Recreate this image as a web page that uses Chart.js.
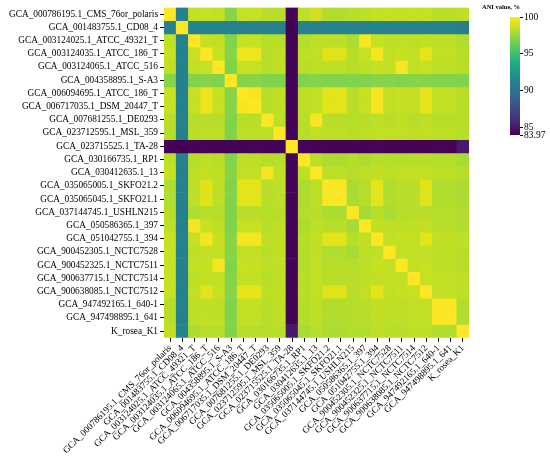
<!DOCTYPE html>
<html><head><meta charset="utf-8">
<script src="https://cdn.jsdelivr.net/npm/chart.js@4"></script>
<style>
html,body{margin:0;padding:0;background:#fff;width:550px;height:463px;overflow:hidden;}
#main{position:absolute;left:0;top:0;width:478px;height:463px;}
#cbar{position:absolute;left:470px;top:0;width:80px;height:150px;}
#cbtitle{position:absolute;left:470px;top:3px;width:62px;text-align:center;font:bold 6.5px "Liberation Serif";line-height:7px;color:#000;white-space:nowrap;}
</style></head><body>
<div id="main"><canvas id="c1"></canvas></div>
<div id="cbar"><canvas id="c2"></canvas></div>
<div id="cbtitle">ANI value, %</div>
<script>
const rowLabels = [
"GCA_000786195.1_CMS_76or_polaris","GCA_001483755.1_CD08_4","GCA_003124025.1_ATCC_49321_T",
"GCA_003124035.1_ATCC_186_T","GCA_003124065.1_ATCC_516","GCA_004358895.1_S-A3",
"GCA_006094695.1_ATCC_186_T","GCA_006717035.1_DSM_20447_T","GCA_007681255.1_DE0293",
"GCA_023712595.1_MSL_359","GCA_023715525.1_TA-28","GCA_030166735.1_RP1","GCA_030412635.1_13",
"GCA_035065005.1_SKFO21.2","GCA_035065045.1_SKFO21.1","GCA_037144745.1_USHLN215",
"GCA_050586365.1_397","GCA_051042755.1_394","GCA_900452305.1_NCTC7528","GCA_900452325.1_NCTC7511",
"GCA_900637715.1_NCTC7514","GCA_900638085.1_NCTC7512","GCA_947492165.1_640-1","GCA_947498895.1_641",
"K_rosea_K1"];
const colLabels = rowLabels.slice();
const aniValues = [
[100,91.0,98.5,98.6,98.5,97.1,98.6,98.6,98.3,98.3,84.1,98.4,98.8,98.1,98.1,98.3,98.4,98.6,98.6,98.6,98.6,98.6,98.3,98.3,98.5],
[91.0,100,91.1,91.1,91.1,91.0,91.1,91.1,91.1,91.1,84.0,91.1,91.1,91.1,91.1,91.1,91.1,91.1,91.1,91.1,91.1,91.1,91.1,91.1,90.7],
[98.5,91.0,100,98.6,98.5,97.0,98.6,98.6,98.2,98.3,84.1,98.2,98.4,98.4,98.4,98.0,99.8,98.6,98.4,98.5,98.4,98.5,98.4,98.4,98.1],
[98.6,91.0,98.6,100,98.6,97.1,99.6,99.6,98.3,98.4,84.1,98.4,98.5,99.2,99.2,98.3,98.6,99.8,98.5,98.6,98.5,99.3,98.5,98.5,98.3],
[98.5,91.0,98.5,98.6,100,97.0,98.6,98.6,98.3,98.4,84.1,98.3,98.4,98.4,98.4,98.2,98.4,98.6,98.5,99.8,98.5,98.6,98.4,98.4,98.2],
[97.1,91.0,97.0,97.1,97.0,100,97.1,97.1,97.0,97.0,84.1,97.0,97.1,97.0,97.0,97.0,97.0,97.1,97.1,97.0,97.1,97.1,97.0,97.0,97.0],
[98.6,91.0,98.6,99.6,98.6,97.1,100,99.8,98.3,98.4,84.1,98.4,98.5,99.3,99.3,98.3,98.6,99.8,98.5,98.6,98.5,99.4,98.5,98.5,98.3],
[98.6,91.0,98.6,99.6,98.6,97.1,99.8,100,98.3,98.4,84.1,98.4,98.5,99.3,99.3,98.3,98.6,99.8,98.5,98.6,98.5,99.4,98.5,98.5,98.3],
[98.3,91.0,98.2,98.3,98.3,97.0,98.3,98.3,100,98.4,84.1,98.3,99.8,98.3,98.3,98.2,98.3,98.4,98.3,98.4,98.3,98.4,98.3,98.3,98.2],
[98.3,91.0,98.3,98.4,98.4,97.0,98.4,98.4,98.4,100,84.1,98.3,98.5,98.4,98.4,98.3,98.4,98.5,98.5,98.5,98.4,98.5,98.4,98.4,98.3],
[84.1,84.0,84.1,84.1,84.1,84.1,84.1,84.1,84.1,84.1,100,84.1,84.1,84.1,84.1,84.1,84.1,84.1,84.1,84.1,84.1,84.1,84.1,84.1,85.1],
[98.4,91.0,98.2,98.4,98.3,97.0,98.4,98.4,98.2,98.3,84.1,100,98.4,98.0,98.0,98.2,98.0,98.3,98.2,98.2,98.3,98.3,98.2,98.2,97.9],
[98.7,91.0,98.4,98.5,98.4,97.1,98.5,98.5,99.7,98.5,84.1,98.4,100,98.4,98.4,98.3,98.4,98.5,98.4,98.5,98.5,98.5,98.4,98.4,98.3],
[98.1,91.0,98.4,99.2,98.4,97.0,99.3,99.3,98.3,98.4,84.1,98.0,98.4,100,99.9,97.9,98.3,99.3,98.1,98.3,98.3,99.2,98.1,98.1,98.0],
[98.1,91.0,98.4,99.2,98.4,97.0,99.3,99.3,98.3,98.4,84.1,98.0,98.4,99.9,100,97.9,98.3,99.3,98.1,98.3,98.3,99.2,98.1,98.1,98.0],
[98.3,91.0,98.1,98.3,98.2,97.0,98.3,98.3,98.2,98.3,84.1,98.2,98.3,98.0,98.0,100,97.8,98.3,97.9,98.2,98.3,98.3,98.2,98.2,98.1],
[98.4,91.0,99.8,98.6,98.4,97.0,98.6,98.6,98.3,98.4,84.1,98.0,98.4,98.3,98.3,97.8,100,98.5,98.4,98.4,98.4,98.5,98.3,98.3,98.1],
[98.6,91.0,98.6,99.8,98.6,97.1,99.8,99.8,98.4,98.5,84.1,98.3,98.5,99.3,99.3,98.3,98.5,100,98.5,98.6,98.5,99.3,98.5,98.5,98.4],
[98.6,91.0,98.4,98.5,98.5,97.1,98.5,98.5,98.3,98.5,84.1,98.2,98.4,98.1,98.1,97.9,98.4,98.5,100,98.5,98.5,98.5,98.4,98.4,98.3],
[98.6,91.0,98.5,98.6,99.8,97.0,98.6,98.6,98.4,98.5,84.1,98.2,98.5,98.3,98.3,98.2,98.4,98.6,98.5,100,98.5,98.6,98.4,98.4,98.3],
[98.6,91.0,98.4,98.5,98.5,97.1,98.5,98.5,98.3,98.4,84.1,98.3,98.5,98.3,98.3,98.3,98.4,98.5,98.5,98.5,100,98.6,98.5,98.5,98.4],
[98.6,91.0,98.5,99.3,98.6,97.1,99.4,99.4,98.4,98.5,84.1,98.3,98.5,99.2,99.2,98.3,98.5,99.3,98.5,98.6,98.6,100,98.5,98.5,98.4],
[98.3,91.0,98.4,98.5,98.4,97.0,98.5,98.5,98.3,98.4,84.1,98.2,98.4,98.1,98.1,98.2,98.3,98.5,98.4,98.4,98.5,98.5,100,99.9,98.1],
[98.3,91.0,98.4,98.5,98.4,97.0,98.5,98.5,98.3,98.4,84.1,98.2,98.4,98.1,98.1,98.2,98.3,98.5,98.4,98.4,98.5,98.5,99.9,100,98.1],
[98.5,91.2,98.0,98.3,98.2,97.0,98.3,98.3,98.2,98.3,85.1,97.9,98.3,98.0,98.0,98.1,98.1,98.4,98.3,98.3,98.4,98.4,98.1,98.1,100]
];
const cbarTicks = [83.97, 85, 90, 95, 100];
const aniMin = 83.97, aniMax = 100;

const VIR = ['#440154','#471365','#482475','#463480','#414487','#3b528b','#355f8d','#2f6c8e','#2a788e','#25848e','#21918c','#1e9c89','#22a884','#2fb47c','#44bf70','#5ec962','#7ad151','#9bd93c','#bddf26','#dfe318','#fde725'];
function hx(h){return [parseInt(h.slice(1,3),16),parseInt(h.slice(3,5),16),parseInt(h.slice(5,7),16)];}
function viridis(t){
  t=Math.max(0,Math.min(1,t));
  const p=t*(VIR.length-1); const i=Math.min(Math.floor(p),VIR.length-2); const f=p-i;
  const a=hx(VIR[i]), b=hx(VIR[i+1]);
  return 'rgb('+a.map((v,k)=>Math.round(v+(b[k]-v)*f)).join(',')+')';
}
const norm = v => (v-aniMin)/(aniMax-aniMin);
const FONT = {family:'"Liberation Serif", "Times New Roman", serif', size:9.3};

const datasets = rowLabels.map((name, r) => ({
  label: name,
  data: colLabels.map(() => [r, r+1]),
  backgroundColor: colLabels.map((_, c) => viridis(norm(aniValues[r][c]))),
  borderWidth: 0
}));

new Chart(document.getElementById('c1'), {
  type: 'bar',
  data: {labels: colLabels, datasets},
  options: {
    responsive: true, maintainAspectRatio: false, animation: false,
    layout: {padding: {top: 4, right: 9, bottom: 6, left: 7}},
    datasets: {bar: {grouped: false, barPercentage: 1, categoryPercentage: 1}},
    plugins: {legend: {display: false}, tooltip: {enabled: false}},
    scales: {
      x: {
        grid: {display: true, drawOnChartArea: false, drawTicks: true, tickLength: 4, color: '#000', offset: false},
        border: {display: false},
        ticks: {autoSkip: false, maxRotation: 45, minRotation: 45, font: FONT, color: '#000', padding: 1}
      },
      y: {
        type: 'linear', min: 0, max: rowLabels.length, reverse: true,
        afterBuildTicks: ax => { ax.ticks = rowLabels.map((_, i) => ({value: i + 0.5})); },
        grid: {display: true, drawOnChartArea: false, drawTicks: true, tickLength: 4, color: '#000'},
        border: {display: false},
        ticks: {autoSkip: false, font: FONT, color: '#000', padding: 2, callback: (v, i) => rowLabels[i]}
      }
    }
  }
});

new Chart(document.getElementById('c2'), {
  type: 'bar',
  data: {labels: ['ANI'], datasets: [{
    data: [[aniMin, aniMax]],
    borderWidth: 0,
    backgroundColor: ctx => {
      const ca = ctx.chart.chartArea; if (!ca) return VIR[10];
      const g = ctx.chart.ctx.createLinearGradient(0, ca.bottom, 0, ca.top);
      VIR.forEach((c, i) => g.addColorStop(i/(VIR.length-1), c));
      return g;
    }
  }]},
  options: {
    responsive: true, maintainAspectRatio: false, animation: false,
    layout: {padding: {top: 17, right: 0, bottom: 15, left: 40}},
    datasets: {bar: {barPercentage: 1, categoryPercentage: 1}},
    plugins: {legend: {display: false}, tooltip: {enabled: false}},
    scales: {
      x: {display: false},
      y: {
        position: 'right', min: aniMin, max: aniMax,
        afterBuildTicks: ax => { ax.ticks = cbarTicks.map(v => ({value: v})); },
        afterFit: ax => { ax.width = 30; },
        grid: {display: true, drawOnChartArea: false, drawTicks: true, tickLength: 3, color: '#000'},
        border: {display: false},
        ticks: {autoSkip: false, font: {family: FONT.family, size: 9.5}, color: '#000', padding: 1,
                callback: v => String(v)}
      }
    }
  }
});
</script>
</body></html>
